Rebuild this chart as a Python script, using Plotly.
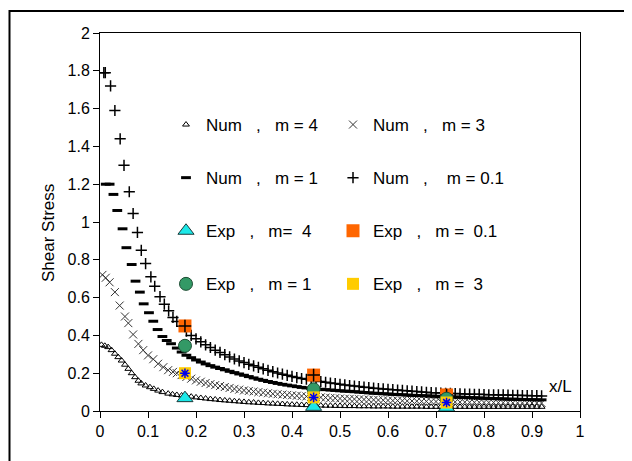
import plotly.graph_objects as go

# ---------------- data ----------------
X_GRID = [0.16, 0.17, 0.18, 0.19, 0.20, 0.21, 0.22, 0.23, 0.24, 0.25,
          0.26, 0.27, 0.28, 0.29, 0.30, 0.31, 0.32, 0.33, 0.34, 0.35,
          0.36, 0.37, 0.38, 0.39, 0.40, 0.41, 0.42, 0.43, 0.44, 0.45,
          0.46, 0.47, 0.48, 0.49, 0.50, 0.51, 0.52, 0.53, 0.54, 0.55,
          0.56, 0.57, 0.58, 0.59, 0.60, 0.61, 0.62, 0.63, 0.64, 0.65,
          0.66, 0.67, 0.68, 0.69, 0.70, 0.71, 0.72, 0.73, 0.74, 0.75,
          0.76, 0.77, 0.78, 0.79, 0.80, 0.81, 0.82, 0.83, 0.84, 0.85,
          0.86, 0.87, 0.88, 0.89, 0.90, 0.91, 0.92]

# Num, m = 0.1
X_M01_LEFT = [0.008, 0.011, 0.022, 0.031, 0.042, 0.050, 0.061, 0.069, 0.078,
              0.086, 0.095, 0.106, 0.114, 0.125, 0.134, 0.143, 0.152]
Y_M01_LEFT = [1.79, 1.79, 1.72, 1.59, 1.44, 1.30, 1.16, 1.045, 0.945,
              0.85, 0.78, 0.71, 0.66, 0.605, 0.565, 0.53, 0.495]
Y_M01_GRID = [0.474, 0.448, 0.422, 0.400, 0.382, 0.366, 0.350, 0.336, 0.322, 0.310,
              0.298, 0.286, 0.275, 0.265, 0.256, 0.247, 0.239, 0.231, 0.223, 0.215,
              0.208, 0.201, 0.195, 0.189, 0.183, 0.177, 0.172, 0.168, 0.164, 0.160,
              0.156, 0.152, 0.148, 0.145, 0.141, 0.138, 0.135, 0.132, 0.129, 0.126,
              0.124, 0.121, 0.119, 0.117, 0.115, 0.113, 0.111, 0.109, 0.107, 0.105,
              0.103, 0.101, 0.099, 0.097, 0.096, 0.095, 0.094, 0.093, 0.092, 0.091,
              0.090, 0.089, 0.088, 0.088, 0.087, 0.086, 0.086, 0.085, 0.085, 0.084,
              0.083, 0.083, 0.082, 0.082, 0.081, 0.081, 0.080]

# Num, m = 1
X_M1_LEFT = [0.012, 0.020, 0.028, 0.036, 0.047, 0.055, 0.066, 0.074, 0.083,
             0.091, 0.102, 0.111, 0.120, 0.130, 0.139, 0.148]
Y_M1_LEFT = [1.20, 1.20, 1.146, 1.061, 0.964, 0.864, 0.775, 0.687, 0.629,
             0.567, 0.520, 0.475, 0.431, 0.394, 0.373, 0.356]
Y_M1_GRID = [0.333, 0.312, 0.295, 0.282, 0.270, 0.259, 0.249, 0.240, 0.232, 0.225,
             0.218, 0.210, 0.203, 0.196, 0.189, 0.182, 0.175, 0.168, 0.162, 0.156,
             0.151, 0.146, 0.141, 0.137, 0.133, 0.129, 0.125, 0.122, 0.119, 0.117,
             0.115, 0.113, 0.111, 0.109, 0.107, 0.105, 0.104, 0.102, 0.100, 0.098,
             0.096, 0.094, 0.093, 0.091, 0.090, 0.088, 0.087, 0.086, 0.084, 0.083,
             0.082, 0.081, 0.080, 0.079, 0.078, 0.077, 0.076, 0.075, 0.074, 0.073,
             0.072, 0.071, 0.070, 0.069, 0.068, 0.067, 0.066, 0.065, 0.064, 0.063,
             0.062, 0.062, 0.061, 0.060, 0.060, 0.059, 0.059]

# Num, m = 3
X_M3_LEFT = [0.005, 0.012, 0.020, 0.031, 0.041, 0.052, 0.059, 0.069, 0.080,
             0.090, 0.100, 0.111, 0.121, 0.132, 0.142, 0.152]
Y_M3_LEFT = [0.72, 0.705, 0.681, 0.629, 0.558, 0.50, 0.465, 0.405, 0.355,
             0.322, 0.294, 0.274, 0.250, 0.232, 0.216, 0.207]
Y_M3_GRID = [0.200, 0.190, 0.180, 0.171, 0.162, 0.155, 0.148, 0.142, 0.137, 0.132,
             0.127, 0.122, 0.117, 0.113, 0.109, 0.106, 0.103, 0.100, 0.097, 0.094,
             0.091, 0.089, 0.087, 0.085, 0.083, 0.081, 0.079, 0.077, 0.075, 0.074,
             0.072, 0.071, 0.069, 0.068, 0.066, 0.065, 0.064, 0.063, 0.062, 0.061,
             0.060, 0.059, 0.058, 0.057, 0.056, 0.055, 0.055, 0.054, 0.053, 0.053,
             0.052, 0.051, 0.051, 0.050, 0.050, 0.049, 0.049, 0.048, 0.048, 0.047,
             0.047, 0.046, 0.046, 0.046, 0.045, 0.045, 0.045, 0.044, 0.044, 0.044,
             0.043, 0.043, 0.043, 0.043, 0.042, 0.042, 0.042]

# Num, m = 4
X_M4_LEFT = [0.003, 0.010, 0.017, 0.024, 0.031, 0.038, 0.045, 0.052, 0.059, 0.066,
             0.073, 0.080, 0.086, 0.095, 0.104, 0.112, 0.121, 0.130, 0.142, 0.151]
Y_M4_LEFT = [0.35, 0.345, 0.338, 0.322, 0.303, 0.285, 0.267, 0.245, 0.223, 0.200,
             0.179, 0.160, 0.146, 0.135, 0.126, 0.117, 0.108, 0.100, 0.092, 0.088]
Y_M4_GRID = [0.085, 0.082, 0.079, 0.076, 0.072, 0.069, 0.066, 0.063, 0.061, 0.058,
             0.056, 0.054, 0.052, 0.050, 0.048, 0.046, 0.045, 0.043, 0.042, 0.040,
             0.039, 0.038, 0.037, 0.035, 0.034, 0.033, 0.032, 0.031, 0.030, 0.030,
             0.029, 0.028, 0.028, 0.027, 0.027, 0.026, 0.026, 0.026, 0.025, 0.025,
             0.025, 0.024, 0.024, 0.024, 0.024, 0.023, 0.023, 0.023, 0.023, 0.023,
             0.023, 0.023, 0.022, 0.022, 0.022, 0.022, 0.022, 0.022, 0.022, 0.022,
             0.022, 0.022, 0.022, 0.022, 0.022, 0.022, 0.022, 0.022, 0.022, 0.022,
             0.022, 0.022, 0.022, 0.022, 0.022, 0.022, 0.022]

# Experimental points
EXP_X = [0.177, 0.445, 0.722]
EXP_M01 = [0.45, 0.19, 0.085]
EXP_M1 = [0.345, 0.115, 0.065]
EXP_M3 = [0.20, 0.072, 0.045]
EXP_M4 = [0.068, 0.022, 0.018]

Y_TICKS = [0, 0.2, 0.4, 0.6, 0.8, 1, 1.2, 1.4, 1.6, 1.8, 2]
X_TICKS = [0, 0.1, 0.2, 0.3, 0.4, 0.5, 0.6, 0.7, 0.8, 0.9, 1]

NB = "\u00a0"
FONT = "Liberation Sans, Arial, sans-serif"

# page body has an 8px default margin -> figure is 624x453, placed at (8, 8)
W, H = 624, 453
L, R, T, B = 92, 52, 25, 50
PW, PH = W - L - R, H - T - B


def px(xf):  # figure pixel -> paper x
    return (xf - L) / PW


def py(yf):  # figure pixel -> paper y
    return (T + PH - yf) / PH


fig = go.Figure()


def num_trace(x, y, name, legend, marker):
    fig.add_trace(go.Scatter(x=x, y=y, mode="markers", name=name, legend=legend,
                             legendgroup=name, marker=marker))


num_trace(X_M4_LEFT + X_GRID, Y_M4_LEFT + Y_M4_GRID,
          "Num" + NB * 3 + "," + NB * 3 + "m = 4", "legend",
          dict(symbol="triangle-up-open", size=6, color="black", line=dict(width=1, color="black")))
num_trace(X_M3_LEFT + X_GRID, Y_M3_LEFT + Y_M3_GRID,
          "Num" + NB * 3 + "," + NB * 3 + "m = 3", "legend2",
          dict(symbol="x-thin", size=8, color="#333", line=dict(width=1, color="#333")))
num_trace(X_M1_LEFT + X_GRID, Y_M1_LEFT + Y_M1_GRID,
          "Num" + NB * 3 + "," + NB * 3 + "m = 1", "legend",
          dict(symbol="line-ew", size=7, color="black", line=dict(width=3, color="black")))
num_trace(X_M01_LEFT + X_GRID, Y_M01_LEFT + Y_M01_GRID,
          "Num" + NB * 3 + "," + NB * 4 + "m = 0.1", "legend2",
          dict(symbol="cross-thin", size=8, color="black", line=dict(width=1.5, color="black")))

# Experimental markers
fig.add_trace(go.Scatter(x=EXP_X, y=EXP_M4, mode="markers",
                         name="Exp" + NB * 3 + "," + NB * 3 + "m=" + NB * 2 + "4", legend="legend",
                         legendgroup="e4",
                         marker=dict(symbol="triangle-up", size=14, color="#1CE8E8",
                                     line=dict(width=1, color="#1a3a3a"))))
fig.add_trace(go.Scatter(x=EXP_X, y=EXP_M01, mode="markers",
                         name="Exp" + NB * 3 + "," + NB * 3 + "m =" + NB * 2 + "0.1", legend="legend2",
                         legendgroup="e01",
                         marker=dict(symbol="square", size=13, color="#FF6600",
                                     line=dict(width=0))))
fig.add_trace(go.Scatter(x=EXP_X, y=EXP_M01, mode="markers", showlegend=False, legendgroup="e01",
                         legend="legend2",
                         marker=dict(symbol="cross-thin", size=9, color="black",
                                     line=dict(width=1.5, color="black"))))
fig.add_trace(go.Scatter(x=EXP_X, y=EXP_M1, mode="markers",
                         name="Exp" + NB * 3 + "," + NB * 3 + "m = 1", legend="legend",
                         legendgroup="e1",
                         marker=dict(symbol="circle", size=13, color="#339966",
                                     line=dict(width=1, color="#1d4d33"))))
fig.add_trace(go.Scatter(x=EXP_X, y=EXP_M3, mode="markers",
                         name="Exp" + NB * 3 + "," + NB * 3 + "m =" + NB * 2 + "3", legend="legend2",
                         legendgroup="e3",
                         marker=dict(symbol="square", size=12, color="#FFCC00",
                                     line=dict(width=0))))
fig.add_trace(go.Scatter(x=EXP_X, y=EXP_M3, mode="markers", showlegend=False, legendgroup="e3",
                         legend="legend2",
                         marker=dict(symbol="asterisk-open", size=8, color="#0000EE",
                                     line=dict(width=1.5, color="#0000EE"))))

legend_common = dict(bgcolor="rgba(0,0,0,0)", borderwidth=0,
                     font=dict(family=FONT, size=17, color="black"),
                     traceorder="grouped", tracegroupgap=28, itemwidth=30,
                     xanchor="left", yanchor="top")

fig.update_layout(
    width=W, height=H,
    margin=dict(l=L, r=R, t=T, b=B, pad=0),
    paper_bgcolor="white", plot_bgcolor="white",
    font=dict(family=FONT, size=16, color="black"),
    showlegend=True,
    legend=dict(x=px(158), y=py(99), **legend_common),
    legend2=dict(x=px(325), y=py(99), **legend_common),
    xaxis=dict(range=[0, 1], tickvals=X_TICKS, showgrid=False, zeroline=False,
               showline=True, linecolor="black", linewidth=1, mirror=True,
               ticks="outside", ticklen=6, tickcolor="black",
               tickfont=dict(family=FONT, size=16, color="black")),
    yaxis=dict(range=[0, 2], tickvals=Y_TICKS, showgrid=False, zeroline=False,
               showline=True, linecolor="black", linewidth=1, mirror=True,
               ticks="outside", ticklen=6, tickcolor="black",
               tickfont=dict(family=FONT, size=16, color="black")),
    annotations=[
        dict(text="Shear Stress", xref="paper", yref="paper",
             x=px(40), y=py(225), textangle=-90, showarrow=False,
             xanchor="center", yanchor="middle", font=dict(family=FONT, size=17, color="black")),
        dict(text="x/L", xref="paper", yref="paper",
             x=px(552.5), y=py(378), showarrow=False,
             xanchor="center", yanchor="middle", font=dict(family=FONT, size=17, color="black")),
    ],
    shapes=[
        dict(type="rect", xref="paper", yref="paper",
             x0=px(1.5), x1=px(W + 20), y0=py(H + 20), y1=py(3),
             line=dict(color="black", width=2), fillcolor="rgba(0,0,0,0)", layer="below"),
    ],
)

fig.write_html("out.html")
